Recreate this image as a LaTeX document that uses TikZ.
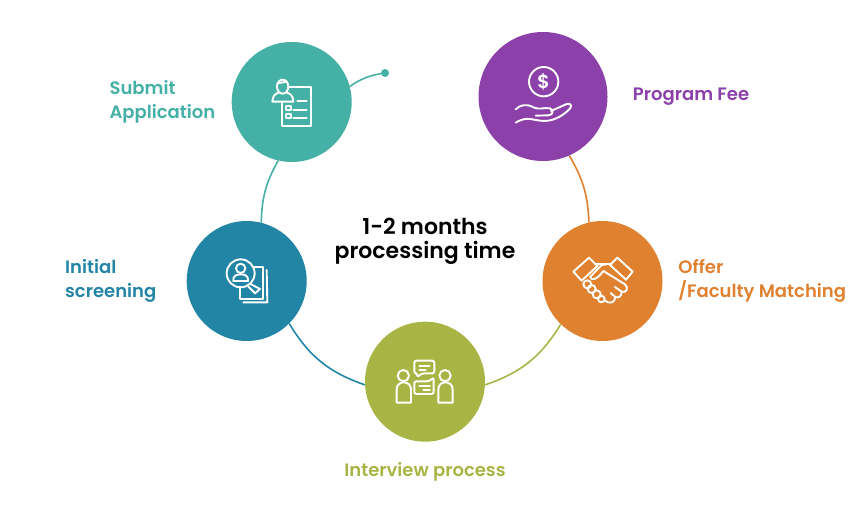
\documentclass[tikz,border=0pt]{standalone}
\usepackage{fontspec}
\setmainfont{Poppins SemiBold}
\usetikzlibrary{positioning}
\definecolor{submitcol}{HTML}{45B0A5}
\definecolor{screencol}{HTML}{2285A5}
\definecolor{talkcol}{HTML}{A8B545}
\definecolor{offercol}{HTML}{E08130}
\definecolor{feecol}{HTML}{8C40A9}

\begin{document}
\begin{tikzpicture}[
        x=1pt,
        y=-1pt,
        % Main circles
        stepcircle/.style={
                circle,
                minimum size=120pt,
                inner sep=0pt
            },
        % Texts beside the circles
        steptext/.style={
                font=\fontsize{18}{24}\selectfont,
                align=left,
                inner sep=0pt
            },
        % Arcs
        arc/.style={
                line width=1.6pt
            },
        % White line icons, read off at one third of a pixel
        icon/.style={
                shift={#1},
                scale=1/3,
                draw=white,
                line width=1.9pt,
                line join=round,
                line cap=round
            }
    ]
    \useasboundingbox (0,0) rectangle (850,510);

    % Circles
    \node[stepcircle, fill=submitcol] (submit) at (291.7,102) {};
    \node[stepcircle, fill=screencol] (screening) at (246.7,281) {};
    \node[stepcircle, fill=talkcol] (interview) at (425,381.7) {};
    \node[stepcircle, fill=offercol] (offer) at (602.5,281) {};
    \node[stepcircle, fill=feecol, minimum size=129pt] (fee) at (543,96.5) {};
    \node[circle, fill=submitcol, minimum size=8pt, inner sep=0pt] (dot) at (385,73) {};

    % Arcs
    \draw[arc, submitcol] (submit.15) to[bend left=12] (dot);
    \draw[arc, submitcol] (submit.257) to[bend right=14] (screening.76);
    \draw[arc, screencol] (screening.-45) to[bend right=20] (interview.183);
    \draw[arc, talkcol] (interview.-3) to[bend right=20] (offer.226);
    \draw[arc, offercol] (offer.103) to[bend right=14] (fee.-66);

    % Texts
    \node[steptext, submitcol, left=16pt of submit] (submittext) {Submit\\Application};
    \node[steptext, screencol, left=30pt of screening] (screeningtext) {Initial\\screening};
    \node[steptext, talkcol, below=20pt of interview] (interviewtext) {Interview process};
    \node[steptext, offercol, right=15.5pt of offer] (offertext) {Offer\\/Faculty Matching};
    \node[steptext, feecol, right=25pt of fee] (feetext) {Program Fee};
    \node[font=\fontsize{22}{24}\selectfont, align=center, inner sep=0pt] (title) at (425,241) {1-2 months\\processing time};

    % Submit icon
    \begin{scope}[icon={(220,30)}]
        \draw (188,170) ellipse (17 and 21);
        \draw (172,160) -- (200,155);
        \draw (157,215) .. controls (157,195) and (170,190) .. (178,187) (198,187) .. controls (208,190) and (220,195) .. (220,215) -- (157,215);
        \draw (205,170) -- (272,170) -- (272,287) -- (187,287) -- (187,215);
        \draw (198,227) rectangle (213,241);
        \draw (198,251) rectangle (213,265);
        \draw (232,213) -- (260,213);
        \draw (220,239) -- (260,239);
        \draw (220,263) -- (260,263);
    \end{scope}

    % Screening icon
    \begin{scope}[icon={(180,215)}]
        \draw (182,175) circle (42);
        \draw (182,160) circle (14);
        \draw (160,198) .. controls (158,182) and (170,178) .. (182,178) .. controls (194,178) and (206,182) .. (204,198) -- cycle;
        \draw (212,207) -- (240,222) -- (225,235) -- (205,215);
        \draw (222,157) -- (250,157) -- (250,252) -- (180,252) -- (180,215);
        \draw (260,165) -- (262,262) -- (190,262);
    \end{scope}

    % Interview icon
    \begin{scope}[icon={(360,320)}]
        \draw (130,167) circle (17);
        \draw (255,167) circle (17);
        \draw (110,248) -- (110,208) .. controls (110,195) and (120,187) .. (131,187) .. controls (143,187) and (153,195) .. (153,208) -- (153,248) -- cycle;
        \draw (235,248) -- (235,208) .. controls (235,195) and (245,187) .. (256,187) .. controls (268,187) and (278,195) .. (278,208) -- (278,248) -- cycle;
        \draw[rounded corners=2pt] (172,172) -- (172,160) -- (163,160) -- (163,122) -- (223,122) -- (223,160) -- (185,160) -- cycle;
        \draw[rounded corners=2pt] (163,222) -- (163,184) -- (208,184) -- (221,172) -- (221,222) -- cycle;
        \draw (178,137) -- (208,137);
        \draw (178,149) -- (197,149);
        \draw (178,198) -- (210,198);
        \draw (190,210) -- (210,210);
    \end{scope}

    % Offer icon
    \begin{scope}[icon={(540,215)}]
        \draw (100,170) -- (147,128) -- (172,153) -- (125,197) -- cycle;
        \draw (278,170) -- (232,128) -- (210,150) -- (258,194) -- cycle;
        \draw (165,147) -- (215,147);
        \draw (205,147) -- (185,150) -- (150,186) .. controls (155,198) and (170,195) .. (190,168) -- (255,208) .. controls (268,220) and (258,235) .. (245,230) -- (225,216);
        \draw (245,230) .. controls (245,245) and (235,250) .. (226,246) -- (212,234);
        \draw (226,246) .. controls (225,262) and (210,270) .. (195,256);
        \draw (142,208) circle (12);
        \draw (155,222) circle (12);
        \draw (170,238) circle (12);
        \draw (184,252) circle (10);
    \end{scope}

    % Fee icon
    \begin{scope}[icon={(470,30)}]
        \draw (221,155) circle (44);
        \node[white, font=\fontsize{19}{19}\selectfont, inner sep=0pt] (dollar) at (221,155) {\$};
        \draw (137,238) .. controls (150,225) and (170,220) .. (190,232) .. controls (205,240) and (225,232) .. (240,235) .. controls (252,240) and (250,255) .. (235,256) -- (197,257);
        \draw (243,243) -- (290,222) .. controls (302,218) and (308,228) .. (298,238) .. controls (280,255) and (260,268) .. (235,272) .. controls (205,276) and (180,262) .. (160,268) .. controls (150,270) and (143,275) .. (137,278);
    \end{scope}

\end{tikzpicture}
\end{document}
